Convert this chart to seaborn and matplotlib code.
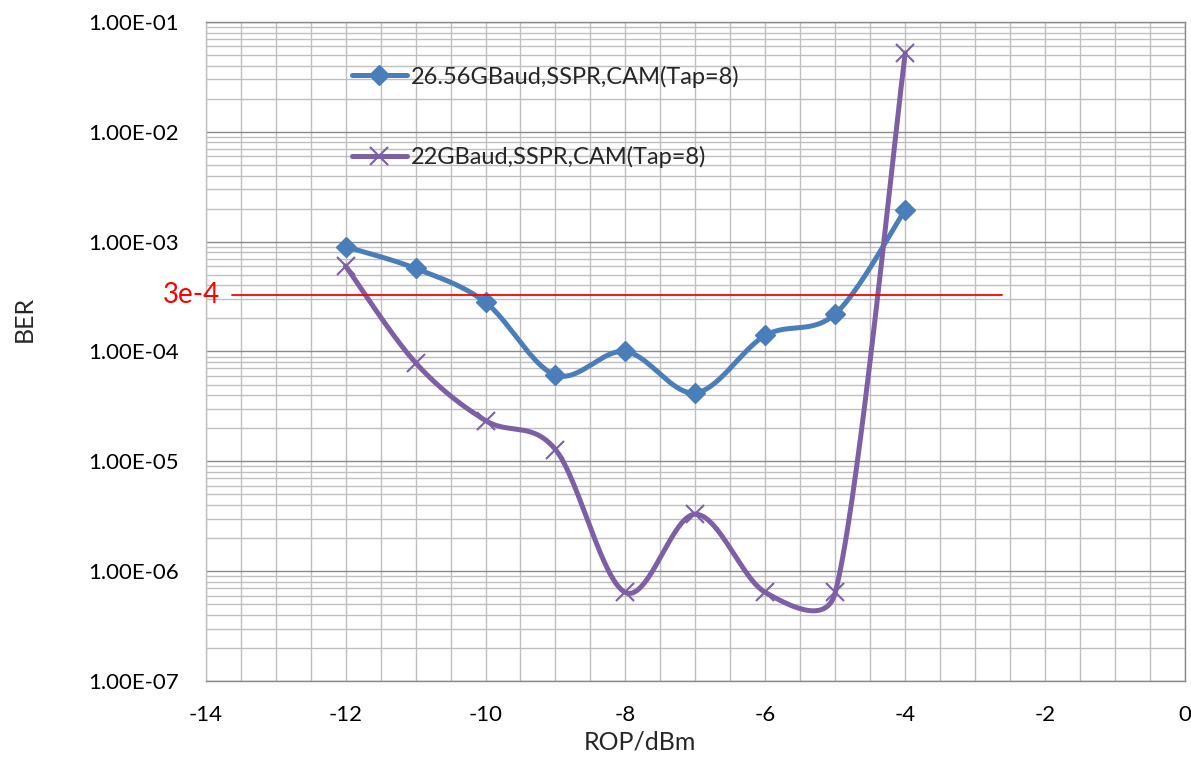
import numpy as np
import matplotlib
matplotlib.use("Agg")
import matplotlib.pyplot as plt
import matplotlib.ticker as mticker
from matplotlib.lines import Line2D
import seaborn as sns

# ---------------- data ----------------
rop = [-12, -11, -10, -9, -8, -7, -6, -5, -4]
ber_2656 = [9.0e-4, 5.7e-4, 2.8e-4, 6.1e-5, 1.0e-4, 4.2e-5, 1.4e-4, 2.2e-4, 1.95e-3]
ber_22 = [6.0e-4, 7.9e-5, 2.35e-5, 1.28e-5, 6.4e-7, 3.3e-6, 6.4e-7, 6.4e-7, 5.2e-2]
labels = ["26.56GBaud,SSPR,CAM(Tap=8)", "22GBaud,SSPR,CAM(Tap=8)"]
threshold = 3.3e-4
threshold_label = "3e-4"
threshold_x = [-13.62, -2.62]
x_ticks = [-14, -12, -10, -8, -6, -4, -2, 0]
y_ticks = [1e-7, 1e-6, 1e-5, 1e-4, 1e-3, 1e-2, 1e-1]

BLUE = "#4A7EBB"
PURPLE = "#7D5FA6"


def excel_smooth(x, y, sx=70.0, sy=110.0, n=60):
    """Excel-like smoothed line: cubic Bezier segments computed in screen-like space."""
    P = np.column_stack([np.asarray(x, float) * sx, np.log10(np.asarray(y, float)) * sy])
    m = len(P)
    xs, ys = [], []
    for i in range(m - 1):
        p0 = P[i - 1] if i > 0 else P[i]
        p1, p2 = P[i], P[i + 1]
        p3 = P[i + 2] if i + 2 < m else P[i + 1]
        d12 = np.linalg.norm(p2 - p1)
        t1 = (p2 - p0) / 6.0
        t2 = (p3 - p1) / 6.0
        for t in (t1, t2):
            nt = np.linalg.norm(t)
            if nt > d12 / 2 and nt > 0:
                t *= (d12 / 2) / nt
        b0, b1, b2, b3 = p1, p1 + t1, p2 - t2, p2
        tt = np.linspace(0, 1, n)[:, None]
        pts = ((1 - tt) ** 3) * b0 + 3 * ((1 - tt) ** 2) * tt * b1 + 3 * (1 - tt) * tt ** 2 * b2 + tt ** 3 * b3
        if i > 0:
            pts = pts[1:]
        xs.append(pts[:, 0] / sx)
        ys.append(10 ** (pts[:, 1] / sy))
    return np.concatenate(xs), np.concatenate(ys)


sns.set_theme(style="white")
plt.rcParams["font.family"] = ["Lato", "DejaVu Sans"]

fig = plt.figure(figsize=(11.91, 7.57), dpi=100)
ax = fig.add_axes([0.1727, 0.1004, 0.8223, 0.8706])

ax.set_yscale("log")
ax.set_xlim(-14, 0)
ax.set_ylim(1e-7, 1e-1)

# grid
ax.xaxis.set_major_locator(mticker.FixedLocator(x_ticks))
ax.xaxis.set_minor_locator(mticker.MultipleLocator(0.5))
ax.yaxis.set_major_locator(mticker.FixedLocator(y_ticks))
ax.yaxis.set_minor_locator(mticker.LogLocator(base=10, subs=np.arange(2, 10), numticks=100))
ax.grid(True, which="minor", axis="both", color="#BFBFBF", lw=1.0, zorder=0)
ax.grid(True, which="major", axis="x", color="#BFBFBF", lw=1.0, zorder=0)
ax.grid(True, which="major", axis="y", color="#8A8A8A", lw=1.0, zorder=0)
ax.set_axisbelow(True)

# series
for yv, col, mk, ms, mew in [(ber_2656, BLUE, "D", 10, 1.0), (ber_22, PURPLE, "x", 13, 1.5)]:
    sx_, sy_ = excel_smooth(rop, yv)
    sns.lineplot(x=sx_, y=sy_, ax=ax, color=col, lw=3.6, sort=False, estimator=None, zorder=3)
    ax.plot(rop, yv, linestyle="none", marker=mk, color=col, markersize=ms,
            markeredgewidth=mew, zorder=4)

# threshold
ax.plot(threshold_x, [threshold, threshold], color="red", lw=1.3, zorder=5, clip_on=False)
ax.text(-13.80, threshold, threshold_label, color="red", fontsize=20,
        ha="right", va="center", clip_on=False)

# ticks / labels
ax.set_yticklabels([f"{v:.2E}" for v in y_ticks])
ax.set_xticklabels([str(v) for v in x_ticks])
ax.tick_params(axis="both", which="both", length=0, labelsize=16, colors="black")
ax.tick_params(axis="y", pad=19)
ax.tick_params(axis="x", pad=17)
ax.set_xlabel("ROP/dBm", fontsize=18, labelpad=0)
ax.xaxis.set_label_coords(0.4435, -0.075)
ax.set_ylabel("BER", fontsize=18)
ax.yaxis.set_label_coords(-0.174, 0.549)

for s in ax.spines.values():
    s.set_color("#8A8A8A")
    s.set_linewidth(1.0)
ax.spines["left"].set_color("#BFBFBF")

# legend
handles = [
    Line2D([], [], color=BLUE, lw=3.6, marker="D", markersize=10),
    Line2D([], [], color=PURPLE, lw=3.6, marker="x", markersize=13, markeredgewidth=1.5),
]
ax.legend(handles, labels, loc="upper left", bbox_to_anchor=(0.149, 0.934),
          frameon=False, fontsize=17, handlelength=2.35, handletextpad=0.15,
          labelspacing=2.48, borderpad=0, borderaxespad=0)

fig.savefig("out.png", dpi=100)
